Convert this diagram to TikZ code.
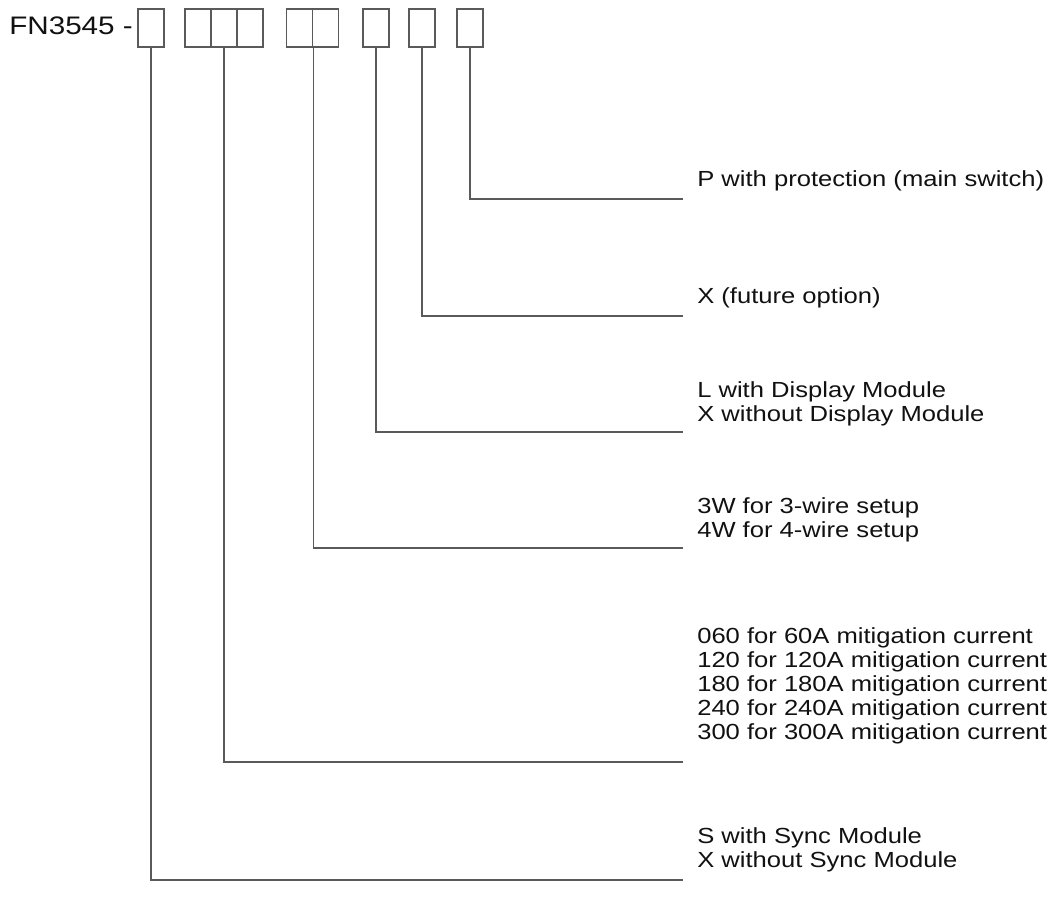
\documentclass[tikz,border=0pt]{standalone}
\usepackage{fontspec}
\setmainfont{Liberation Sans}[FakeStretch=1.17]
\definecolor{linegray}{HTML}{5A5A5A}
\definecolor{txt}{HTML}{111111}
\begin{document}
\begin{tikzpicture}[x=0.75pt,y=-0.75pt,
  cell/.style={draw=linegray, line width=0.9pt, minimum width=19.5pt, minimum height=28.5pt, inner sep=0pt},
  lead/.style={draw=linegray, line width=0.9pt},
  lbl/.style={anchor=west, align=left, inner sep=0pt, text=txt, font=\fontsize{16.4pt}{18pt}\selectfont}]
\useasboundingbox (0,0) rectangle (1055,909);
\node[anchor=base west, inner sep=0pt, text=txt, font=\fontsize{19pt}{21pt}\selectfont] (title) at (9,35) {FN3545 -};
\node[cell] (b1) at (151,28) {};
\node[cell] (c1) at (198,28) {};
\node[cell] (c2) at (224,28) {};
\node[cell] (c3) at (250,28) {};
\node[cell] (d1) at (299.5,28) {};
\node[cell] (d2) at (325.5,28) {};
\node[cell] (b5) at (376,28) {};
\node[cell] (b6) at (422,28) {};
\node[cell] (b7) at (470,28) {};
\coordinate (e1) at (683,199);
\coordinate (e2) at (683,316);
\coordinate (e3) at (683,432);
\coordinate (e4) at (683,548);
\coordinate (e5) at (683,762);
\coordinate (e6) at (683,880);
\node[lbl] (t1) at (697,181) {P with protection (main switch)};
\node[lbl] (t2) at (697,298) {X (future option)};
\node[lbl] (t3) at (697,404) {L with Display Module\\X without Display Module};
\node[lbl] (t4) at (697,520) {3W for 3-wire setup\\4W for 4-wire setup};
\node[lbl] (t5) at (697,686) {060 for 60A mitigation current\\120 for 120A mitigation current\\180 for 180A mitigation current\\240 for 240A mitigation current\\300 for 300A mitigation current};
\node[lbl] (t6) at (697,850) {S with Sync Module\\X without Sync Module};
\draw[lead] (b7.south) |- (e1);
\draw[lead] (b6.south) |- (e2);
\draw[lead] (b5.south) |- (e3);
\draw[lead] (d1.south east) |- (e4);
\draw[lead] (c2.south) |- (e5);
\draw[lead] (b1.south) |- (e6);
\end{tikzpicture}
\end{document}
